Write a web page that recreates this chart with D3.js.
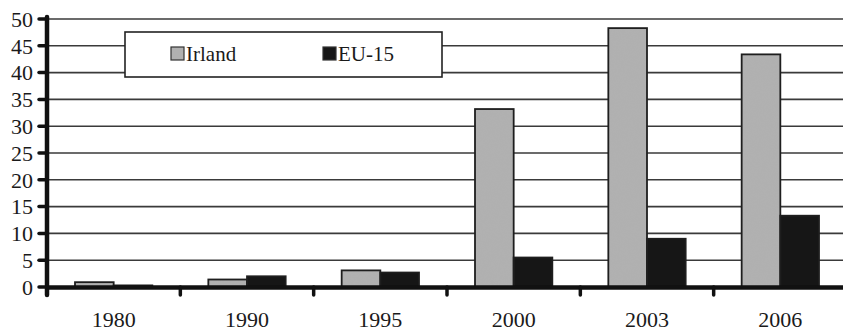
<!DOCTYPE html>
<html>
<head>
<meta charset="utf-8">
<script src="https://cdn.jsdelivr.net/npm/d3@7"></script>
<style>
  html, body { margin: 0; padding: 0; background: #fff; }
  svg { display: block; }
  text { font-family: "Liberation Serif", "DejaVu Serif", serif; fill: #1a1a1a; }
</style>
</head>
<body>
<svg id="chart" width="843" height="331"></svg>
<script>
// Direktinvestitionen: Irland vs. EU-15
const years = ["1980", "1990", "1995", "2000", "2003", "2006"];
const seriesNames = ["Irland", "EU-15"];
const irland = [0.9, 1.4, 3.1, 33.2, 48.3, 43.4];
const eu15 = [0.3, 2.0, 2.7, 5.5, 9.0, 13.3];
const yTicks = [0, 5, 10, 15, 20, 25, 30, 35, 40, 45, 50];

const colors = { "Irland": "#b0b0b0", "EU-15": "#161616" };

const svg = d3.select("#chart");
const W = 843;
const plotLeft = 47, plotRight = 847, plotTop = 19, plotBottom = 287;

// grain texture for the light bars
const defs = svg.append("defs");
const grain = defs.append("filter").attr("id", "grain")
  .attr("x", 0).attr("y", 0).attr("width", 1).attr("height", 1);
grain.append("feTurbulence").attr("type", "fractalNoise")
  .attr("baseFrequency", 0.9).attr("numOctaves", 2).attr("seed", 3).attr("result", "noise");
grain.append("feColorMatrix").attr("in", "noise").attr("type", "matrix")
  .attr("values", "0 0 0 0 0.45  0 0 0 0 0.45  0 0 0 0 0.45  0 0 0 0.45 0").attr("result", "tint");
grain.append("feComposite").attr("in", "tint").attr("in2", "SourceGraphic").attr("operator", "in").attr("result", "dots");
grain.append("feMerge").selectAll("feMergeNode").data(["SourceGraphic", "dots"]).join("feMergeNode").attr("in", d => d);

const x0 = d3.scaleBand().domain(years).range([plotLeft, plotRight])
  .paddingInner(0.42).paddingOuter(0.21);
const x1 = d3.scaleBand().domain(seriesNames).range([0, x0.bandwidth()]);
const y = d3.scaleLinear().domain([0, 50]).range([plotBottom, plotTop]);

// horizontal gridlines
svg.append("g").selectAll("line").data(yTicks.filter(d => d > 0)).join("line")
  .attr("x1", plotLeft).attr("x2", W)
  .attr("y1", d => y(d)).attr("y2", d => y(d))
  .attr("stroke", "#3a3a3a").attr("stroke-width", 1.6);

// bars
const data = years.map((yr, i) => ({ year: yr, values: [
  { key: "Irland", value: irland[i] }, { key: "EU-15", value: eu15[i] }] }));

const groups = svg.append("g").selectAll("g").data(data).join("g")
  .attr("transform", d => `translate(${x0(d.year)},0)`);
groups.selectAll("rect").data(d => d.values).join("rect")
  .attr("x", d => x1(d.key))
  .attr("y", d => y(d.value))
  .attr("width", x1.bandwidth())
  .attr("height", d => y(0) - y(d.value))
  .attr("fill", d => colors[d.key])
  .attr("filter", d => d.key === "Irland" ? "url(#grain)" : null);
groups.selectAll("rect.outline").data(d => d.values).join("rect")
  .attr("class", "outline")
  .attr("x", d => x1(d.key))
  .attr("y", d => y(d.value))
  .attr("width", x1.bandwidth())
  .attr("height", d => y(0) - y(d.value))
  .attr("fill", "none")
  .attr("stroke", "#1e1e1e")
  .attr("stroke-width", 1.8);

// x axis: heavy baseline with tick marks between year groups
const boundaries = years.map(yr => x0(yr) - x0.step() * x0.paddingInner() / 2);
svg.append("line")
  .attr("x1", plotLeft).attr("x2", W).attr("y1", y(0) + 0.5).attr("y2", y(0) + 0.5)
  .attr("stroke", "#111").attr("stroke-width", 4.5);
svg.append("g").selectAll("line").data(boundaries.slice(1)).join("line")
  .attr("x1", d => d).attr("x2", d => d)
  .attr("y1", y(0)).attr("y2", y(0) + 8)
  .attr("stroke", "#111").attr("stroke-width", 3.5).attr("stroke-linecap", "round");

svg.append("g").selectAll("text").data(years).join("text")
  .attr("x", d => x0(d) + x0.bandwidth() / 2)
  .attr("y", 327)
  .attr("text-anchor", "middle")
  .attr("font-size", 22)
  .text(d => d);

// y axis
svg.append("line")
  .attr("x1", plotLeft).attr("x2", plotLeft).attr("y1", plotTop - 2).attr("y2", plotBottom + 8)
  .attr("stroke", "#111").attr("stroke-width", 4.5).attr("stroke-linecap", "round");
svg.append("g").selectAll("line").data(yTicks).join("line")
  .attr("x1", plotLeft - 8).attr("x2", plotLeft)
  .attr("y1", d => y(d)).attr("y2", d => y(d))
  .attr("stroke", "#111").attr("stroke-width", 3.5).attr("stroke-linecap", "round");
svg.append("g").selectAll("text").data(yTicks).join("text")
  .attr("x", 33)
  .attr("y", d => y(d))
  .attr("dy", "0.35em")
  .attr("text-anchor", "end")
  .attr("font-size", 22)
  .text(d => d);

// legend
const legend = svg.append("g");
legend.append("rect")
  .attr("x", 125).attr("y", 32).attr("width", 317).attr("height", 45)
  .attr("fill", "#fff").attr("stroke", "#222").attr("stroke-width", 1.6);
const legendX = [171, 323];
seriesNames.forEach((name, i) => {
  legend.append("rect")
    .attr("x", legendX[i]).attr("y", 47).attr("width", 13).attr("height", 13)
    .attr("fill", colors[name]).attr("stroke", "#333").attr("stroke-width", 1.2);
  legend.append("text")
    .attr("x", legendX[i] + 15).attr("y", 61)
    .attr("font-size", 21)
    .text(name);
});
</script>
</body>
</html>
